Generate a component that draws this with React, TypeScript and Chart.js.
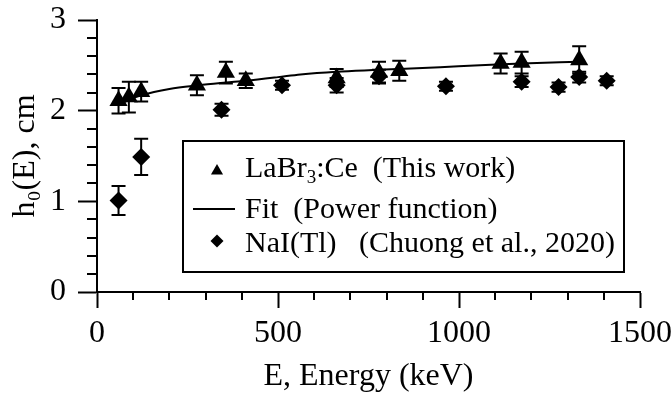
import React, { useEffect, useRef } from 'react';
import { Chart, registerables } from 'chart.js';

Chart.register(...registerables);

// LaBr3:Ce (This work)
const labrEnergy = [59.5, 88, 122, 276, 356, 411, 662, 779, 835, 1115, 1173, 1332];
const labrH = [2.11, 2.15, 2.21, 2.28, 2.42, 2.33, 2.36, 2.42, 2.44, 2.52, 2.53, 2.56];
const labrErr = [0.14, 0.17, 0.11, 0.11, 0.12, 0.08, 0.1, 0.12, 0.11, 0.11, 0.12, 0.15];

// NaI(Tl) (Chuong et al., 2020)
const naiEnergy = [59.5, 122, 344, 511, 662, 779, 964, 1173, 1275, 1332, 1408];
const naiH = [1.01, 1.49, 2.01, 2.28, 2.28, 2.38, 2.27, 2.32, 2.26, 2.37, 2.33];
const naiErr = [0.16, 0.2, 0.065, 0.05, 0.08, 0.07, 0.05, 0.06, 0.05, 0.06, 0.05];

// Fit (Power function)
const fitEnergy = [59.5, 88, 122, 200, 280, 356, 411, 500, 562, 662, 779, 835, 948, 1058, 1173, 1332];
const fitH = [2.06, 2.12, 2.17, 2.24, 2.28, 2.31, 2.33, 2.37, 2.4, 2.43, 2.45, 2.46, 2.48, 2.5, 2.52, 2.54];

// axis ticks
const xMajorStep = 500;
const yMajorStep = 1;
const xMinorTicks = [100, 200, 300, 400, 600, 700, 800, 900, 1100, 1200, 1300, 1400];
const yMinorTicks = [0.2, 0.4, 0.6, 0.8, 1.2, 1.4, 1.6, 1.8, 2.2, 2.4, 2.6, 2.8];

const FONT = '"Liberation Serif", "Times New Roman", Times, serif';

export default function App() {
  const ref = useRef<HTMLCanvasElement>(null);

  useEffect(() => {
    const canvas = ref.current;
    if (!canvas) return;

    const errors: Record<string, number[]> = {
      labr: labrErr,
      nai: naiErr,
    };

    const errorBars = {
      id: 'errorBars',
      beforeDatasetsDraw(chart: any) {
        const { ctx, scales } = chart;
        const x = scales.x;
        const y = scales.y;
        ctx.save();
        ctx.strokeStyle = '#000';
        ctx.lineWidth = 2;
        chart.data.datasets.forEach((ds: any) => {
          const err = errors[ds.key];
          if (!err) return;
          ds.data.forEach((p: any, i: number) => {
            const px = x.getPixelForValue(p.x);
            const t = y.getPixelForValue(p.y + err[i]);
            const b = y.getPixelForValue(p.y - err[i]);
            ctx.beginPath();
            ctx.moveTo(px, t);
            ctx.lineTo(px, b);
            ctx.moveTo(px - 7, t);
            ctx.lineTo(px + 7, t);
            ctx.moveTo(px - 7, b);
            ctx.lineTo(px + 7, b);
            ctx.stroke();
          });
        });
        ctx.restore();
      },
    };

    const minorTicks = {
      id: 'minorTicks',
      afterDraw(chart: any) {
        const { ctx, scales, chartArea } = chart;
        ctx.save();
        ctx.strokeStyle = '#000';
        ctx.lineWidth = 2;
        ctx.beginPath();
        xMinorTicks.forEach((v) => {
          const px = Math.round(scales.x.getPixelForValue(v));
          ctx.moveTo(px, chartArea.bottom);
          ctx.lineTo(px, chartArea.bottom + 8);
        });
        yMinorTicks.forEach((v) => {
          const py = Math.round(scales.y.getPixelForValue(v));
          ctx.moveTo(chartArea.left - 10, py);
          ctx.lineTo(chartArea.left, py);
        });
        ctx.stroke();
        ctx.restore();
      },
    };

    const boxLegend = {
      id: 'boxLegend',
      afterDraw(chart: any) {
        const { ctx, chartArea } = chart;
        const L = chartArea.left + 86;
        const T = chartArea.top + 121;
        const W = 441;
        const H = 131;
        ctx.save();
        ctx.fillStyle = '#fff';
        ctx.fillRect(L, T, W, H);
        ctx.strokeStyle = '#000';
        ctx.lineWidth = 2;
        ctx.strokeRect(L, T, W, H);
        ctx.fillStyle = '#000';

        const mx = L + 34;
        const tx = L + 62;
        const rows = [T + 36, T + 77, T + 111];

        // triangle marker
        const r1 = 7;
        const cy1 = rows[0] - 6;
        ctx.beginPath();
        ctx.moveTo(mx, cy1 - r1);
        ctx.lineTo(mx + r1 * 0.866, cy1 + r1 / 2);
        ctx.lineTo(mx - r1 * 0.866, cy1 + r1 / 2);
        ctx.closePath();
        ctx.fill();

        // line
        ctx.beginPath();
        ctx.moveTo(L + 10, rows[1] - 9);
        ctx.lineTo(L + 52, rows[1] - 9);
        ctx.stroke();

        // diamond
        const r3 = 6.5;
        const cy3 = rows[2] - 11;
        ctx.beginPath();
        ctx.moveTo(mx, cy3 - r3);
        ctx.lineTo(mx + r3, cy3);
        ctx.lineTo(mx, cy3 + r3);
        ctx.lineTo(mx - r3, cy3);
        ctx.closePath();
        ctx.fill();

        ctx.textBaseline = 'alphabetic';
        ctx.textAlign = 'left';
        const big = '30px ' + FONT;
        const small = '19px ' + FONT;
        const drawSegs = (segs: [string, boolean][], x0: number, y0: number) => {
          let x = x0;
          segs.forEach(([s, sub]) => {
            ctx.font = sub ? small : big;
            ctx.fillText(s, x, sub ? y0 + 6 : y0);
            x += ctx.measureText(s).width;
          });
        };
        drawSegs([['LaBr', false], ['3', true], [':Ce  (This work)', false]], tx, rows[0]);
        drawSegs([['Fit  (Power function)', false]], tx, rows[1]);
        drawSegs([['NaI(Tl)   (Chuong et al., 2020)', false]], tx, rows[2]);
        ctx.restore();
      },
    };

    const chart = new Chart(canvas, {
      type: 'scatter',
      data: {
        datasets: [
          {
            key: 'fit',
            type: 'line',
            label: 'Fit  (Power function)',
            data: fitEnergy.map((e, i) => ({ x: e, y: fitH[i] })),
            borderColor: '#000',
            borderWidth: 2,
            pointRadius: 0,
            showLine: true,
            fill: false,
            cubicInterpolationMode: 'monotone',
            order: 3,
          } as any,
          {
            key: 'nai',
            label: 'NaI(Tl)   (Chuong et al., 2020)',
            data: naiEnergy.map((e, i) => ({ x: e, y: naiH[i] })),
            pointStyle: 'rectRot',
            pointRadius: 9,
            backgroundColor: '#000',
            borderColor: '#000',
            borderWidth: 0,
            order: 2,
          } as any,
          {
            key: 'labr',
            label: 'LaBr3:Ce  (This work)',
            data: labrEnergy.map((e, i) => ({ x: e, y: labrH[i] })),
            pointStyle: 'triangle',
            pointRadius: 10.5,
            backgroundColor: '#000',
            borderColor: '#000',
            borderWidth: 0,
            order: 1,
          } as any,
        ],
      },
      options: {
        animation: false,
        responsive: true,
        maintainAspectRatio: false,
        layout: { padding: { top: 20, right: 31, left: 0, bottom: 0 } },
        plugins: {
          legend: { display: false },
          tooltip: { enabled: false },
        },
        scales: {
          x: {
            type: 'linear',
            min: 0,
            max: 1500,
            ticks: {
              stepSize: xMajorStep,
              font: { family: FONT, size: 32 },
              color: '#000',
              padding: 6,
              maxRotation: 0,
              callback: (v: any) => String(v),
            },
            grid: {
              drawOnChartArea: false,
              tickLength: 16,
              tickWidth: 2,
              tickColor: '#000',
            },
            border: { display: true, color: '#000', width: 2 },
            title: {
              display: true,
              text: 'E, Energy (keV)',
              font: { family: FONT, size: 32 },
              color: '#000',
              padding: { top: 0, bottom: 3 },
            },
            afterFit(scale: any) {
              scale.height = 107;
              scale.paddingLeft = 0;
              scale.paddingRight = 0;
            },
          },
          y: {
            type: 'linear',
            min: 0,
            max: 3,
            ticks: {
              stepSize: yMajorStep,
              font: { family: FONT, size: 32 },
              color: '#000',
              padding: 12,
              callback: (v: any) => String(v),
            },
            grid: {
              drawOnChartArea: false,
              tickLength: 19,
              tickWidth: 2,
              tickColor: '#000',
            },
            border: { display: true, color: '#000', width: 2 },
            title: {
              display: true,
              text: 'h₀(E), cm',
              font: { family: FONT, size: 32 },
              color: '#000',
              padding: { top: 6, bottom: 0 },
            },
            afterFit(scale: any) {
              scale.width = 97;
              scale.paddingTop = 0;
              scale.paddingBottom = 0;
            },
          },
        },
      } as any,
      plugins: [errorBars, minorTicks, boxLegend],
    });

    return () => chart.destroy();
  }, []);

  return (
    <div style={{ position: 'fixed', left: 0, top: 0, width: 671, height: 399, background: '#fff' }}>
      <canvas ref={ref} />
    </div>
  );
}
